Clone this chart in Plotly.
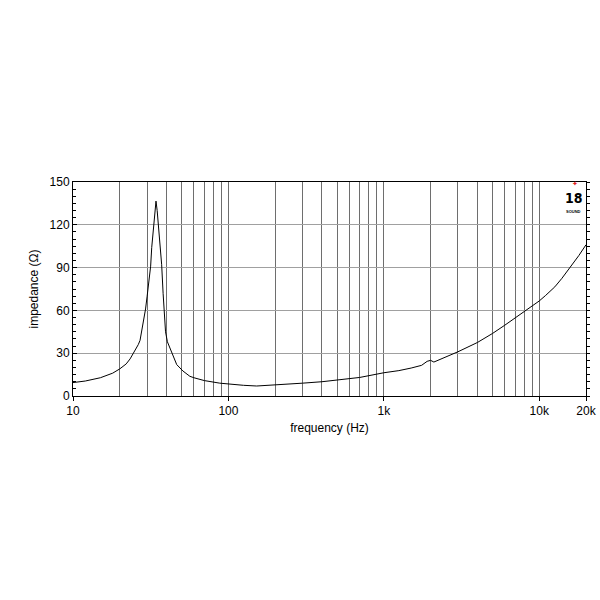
import plotly.graph_objects as go

freq_hz = [10, 12, 15, 18, 20, 22, 23.3, 25.1, 26.3, 27, 28.3, 29.3, 30, 31, 31.6, 32.1, 32.8,
           33.7, 34.2, 34.8, 35.9, 36.5, 37.2, 38, 38.6, 39.4, 40.5, 43.2, 46.5, 51, 56.5, 60,
           70, 88, 100, 125, 152, 200, 300, 400, 500, 700, 1000, 1250, 1500, 1750, 1900,
           2000, 2100, 2300, 2700, 3000, 4000, 5000, 6000, 8000, 10000, 11000, 12600, 14000,
           15800, 18000, 20000]
impedance_ohm = [9.4, 10.5, 12.8, 16.0, 19.0, 22.5, 26.0, 32.0, 36.0, 39.0, 51, 61, 70, 85, 91,
                 104, 116, 132.5, 136.6, 130, 114, 102, 92, 72, 58, 45, 38, 30, 22, 17.5, 13.8,
                 12.8, 10.8, 9.0, 8.4, 7.5, 7.0, 7.6, 9.0, 10.0, 11.0, 13.0, 16.3, 17.8, 19.6,
                 21.5, 24.3, 25.0, 23.8, 25.5, 29.0, 31.0, 37.5, 43.8, 49.6, 59.0, 66.6, 70.5,
                 76.5, 82.5, 90.0, 98.5, 106.0]

x_tick_vals = [10, 100, 1000, 10000, 20000]
x_tick_text = ["10", "100", "1k", "10k", "20k"]
x_grid_vals = [20, 30, 40, 50, 60, 70, 80, 90, 100, 200, 300, 400, 500, 600, 700, 800, 900,
               1000, 2000, 3000, 4000, 5000, 6000, 7000, 8000, 9000, 10000]
y_tick_vals = [0, 30, 60, 90, 120, 150]

FONT = "Liberation Sans, Arial, Helvetica, sans-serif"

fig = go.Figure()
fig.add_trace(go.Scatter(x=freq_hz, y=impedance_ohm, mode="lines",
                         line=dict(color="black", width=1), showlegend=False,
                         hoverinfo="skip"))
# invisible trace for the right-hand axis
fig.add_trace(go.Scatter(x=[10], y=[0], yaxis="y2", mode="markers",
                         marker=dict(opacity=0), showlegend=False, hoverinfo="skip"))

fig.update_layout(
    width=600, height=600,
    margin=dict(l=73, r=14, t=182, b=204, autoexpand=False),
    paper_bgcolor="white", plot_bgcolor="white",
    font=dict(family=FONT, size=12, color="black"),
    xaxis=dict(
        type="log", range=[1, 4.30103], automargin=False,
        tickmode="array", tickvals=x_tick_vals, ticktext=x_tick_text,
        showgrid=False, ticks="outside", ticklen=4, tickcolor="black",
        showline=True, linecolor="black", linewidth=1, mirror=True,
        minor=dict(tickmode="array", tickvals=x_grid_vals, showgrid=True,
                   gridcolor="#6e6e6e", gridwidth=1, ticks=""),
        title=dict(text="frequency (Hz)", font=dict(size=12), standoff=6),
        zeroline=False, tickfont=dict(size=12),
    ),
    yaxis=dict(
        range=[0, 150], tickmode="array", tickvals=y_tick_vals, automargin=False,
        showgrid=True, gridcolor="#a0a0a0", gridwidth=1,
        ticks="inside", ticklen=4, tickcolor="black",
        minor=dict(dtick=5, ticks="inside", ticklen=3, tickcolor="black", showgrid=False),
        showline=True, linecolor="black", linewidth=1, mirror=True,
        title=dict(text="impedance (Ω)", font=dict(size=12), standoff=8),
        zeroline=False, tickfont=dict(size=12),
    ),
    yaxis2=dict(
        range=[0, 150], overlaying="y", side="right", showticklabels=False,
        automargin=False,
        tickmode="array", tickvals=y_tick_vals, ticks="outside", ticklen=3,
        tickcolor="black", showgrid=False, zeroline=False,
        minor=dict(dtick=5, ticks="outside", ticklen=3, tickcolor="black", showgrid=False),
        showline=False,
    ),
)

# logo
fig.add_annotation(xref="paper", yref="paper", x=0.9795, y=0.992, text="✦",
                   xanchor="center", yanchor="middle", borderpad=0,
                   showarrow=False, font=dict(color="#e02020", size=7, family=FONT))
fig.add_annotation(xref="paper", yref="paper", x=0.9766, y=0.926, text="<b>18</b>",
                   xanchor="center", yanchor="middle", borderpad=0,
                   showarrow=False, font=dict(color="black", size=14,
                                              family="Liberation Sans Narrow, DejaVu Sans Condensed, sans-serif"))
fig.add_annotation(xref="paper", yref="paper", x=0.9766, y=0.860, text="<b>SOUND</b>",
                   xanchor="center", yanchor="middle", borderpad=0,
                   showarrow=False, font=dict(color="black", size=4, family=FONT))

fig.write_html("out.html")
